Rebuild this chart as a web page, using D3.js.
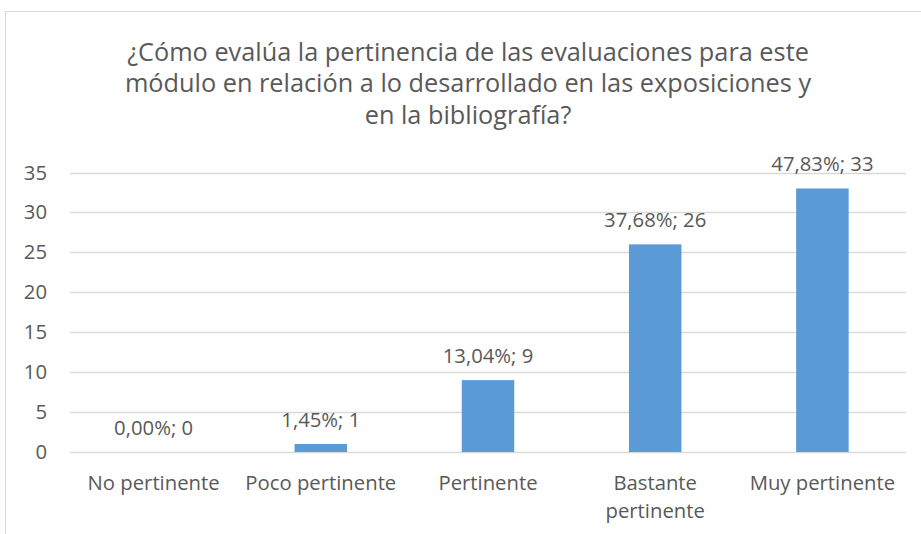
<!DOCTYPE html>
<html>
<head>
<meta charset="utf-8">
<script src="https://cdn.jsdelivr.net/npm/d3@7"></script>
<style>
  body { margin: 0; background: #fff; }
  svg text { font-family: "Open Sans", sans-serif; fill: #595959; }
</style>
</head>
<body>
<svg width="921" height="534"></svg>
<script>
// chart data
const categories = ["No pertinente", "Poco pertinente", "Pertinente", "Bastante pertinente", "Muy pertinente"];
const counts = [0, 1, 9, 26, 33];
const percents = ["0,00%", "1,45%", "13,04%", "37,68%", "47,83%"];
const yTicks = [0, 5, 10, 15, 20, 25, 30, 35];
const titleLines = [
    "¿Cómo evalúa la pertinencia de las evaluaciones para este",
    "módulo en relación a lo desarrollado en las exposiciones y",
    "en la bibliografía?"
];

function draw() {
    const svg = d3.select("svg");

    // chart border (Excel chart area)
    svg.append("rect")
       .attr("x", 5.5).attr("y", 11.5)
       .attr("width", 930).attr("height", 540)
       .attr("fill", "none")
       .attr("stroke", "#d9d9d9");

    const left = 70, right = 906, top = 172.5, bottom = 452;
    const fs = 20.3;

    const x = d3.scaleBand()
                .domain(categories)
                .range([left, right])
                .paddingInner(0.686)
                .paddingOuter(0.343);

    const y = d3.scaleLinear()
                .domain([0, 35])
                .range([bottom, top]);

    // title
    svg.append("text")
       .attr("text-anchor", "middle")
       .attr("font-size", 25.3)
       .selectAll("tspan")
       .data(titleLines)
       .enter()
       .append("tspan")
         .attr("x", 468)
         .attr("y", (d, i) => 60.5 + i * 31.7)
         .text(d => d);

    // gridlines
    svg.append("g")
       .selectAll("line")
       .data(yTicks)
       .enter()
       .append("line")
         .attr("x1", left).attr("x2", right)
         .attr("y1", d => Math.round(y(d)) + 0.5)
         .attr("y2", d => Math.round(y(d)) + 0.5)
         .attr("stroke", "#d9d9d9")
         .attr("stroke-width", 1.3);

    // y axis labels
    svg.append("g")
       .selectAll("text")
       .data(yTicks)
       .enter()
       .append("text")
         .attr("x", 47)
         .attr("y", d => y(d) + 7)
         .attr("text-anchor", "end")
         .attr("font-size", fs)
         .text(d => d);

    // bars
    svg.append("g")
       .selectAll("rect")
       .data(categories)
       .enter()
       .append("rect")
         .attr("x", d => x(d))
         .attr("y", (d, i) => y(counts[i]))
         .attr("width", x.bandwidth())
         .attr("height", (d, i) => bottom - y(counts[i]))
         .attr("fill", "#5b9bd5");

    // data labels
    svg.append("g")
       .selectAll("text")
       .data(categories)
       .enter()
       .append("text")
         .attr("x", d => x(d) + x.bandwidth() / 2)
         .attr("y", (d, i) => y(counts[i]) - 17)
         .attr("text-anchor", "middle")
         .attr("font-size", fs)
         .text((d, i) => percents[i] + "; " + counts[i]);

    // category labels (wrap Bastante pertinente like Excel)
    const wrap = d => d === "Bastante pertinente" ? ["Bastante", "pertinente"] : [d];
    svg.append("g")
       .selectAll("text")
       .data(categories)
       .enter()
       .append("text")
         .attr("text-anchor", "middle")
         .attr("font-size", fs)
         .each(function(d) {
             d3.select(this).selectAll("tspan")
               .data(wrap(d))
               .enter()
               .append("tspan")
                 .attr("x", x(d) + x.bandwidth() / 2)
                 .attr("y", (t, i) => 490 + i * 28)
                 .text(t => t);
         });
}

draw();
</script>
</body>
</html>
